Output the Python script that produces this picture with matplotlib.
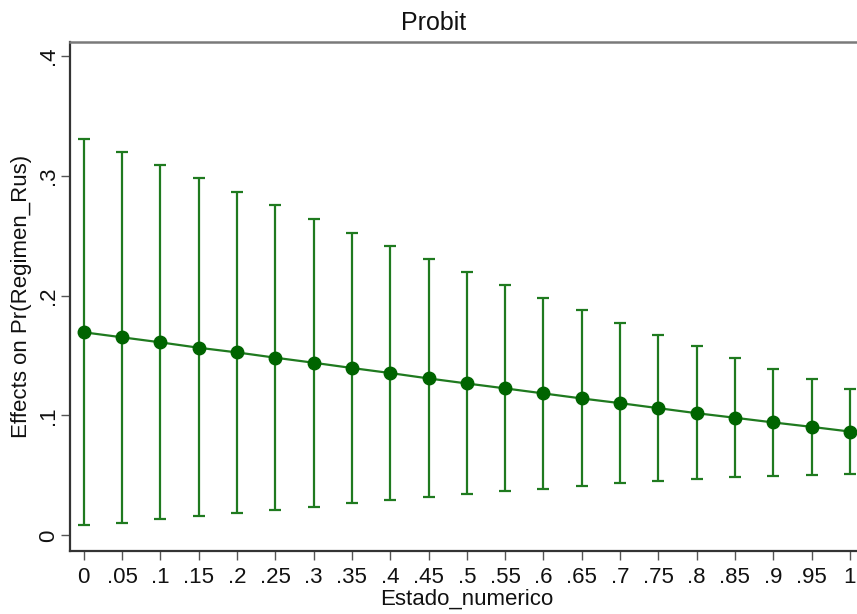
import matplotlib.pyplot as plt

plt.rcParams['font.family'] = ['Liberation Sans', 'DejaVu Sans']

# values
estado = [0, .05, .1, .15, .2, .25, .3, .35, .4, .45, .5,
          .55, .6, .65, .7, .75, .8, .85, .9, .95, 1]
effect = [0.1694, 0.1652, 0.1610, 0.1565, 0.1526, 0.1482, 0.1440, 0.1396,
          0.1354, 0.1309, 0.1267, 0.1226, 0.1184, 0.1142, 0.1103, 0.1061,
          0.1019, 0.0981, 0.0942, 0.0905, 0.0866]
ci_upper = [0.3306, 0.3200, 0.3089, 0.2980, 0.2867, 0.2753, 0.2639, 0.2525,
            0.2414, 0.2303, 0.2194, 0.2086, 0.1978, 0.1878, 0.1769, 0.1669,
            0.1578, 0.1481, 0.1386, 0.1303, 0.1222]
ci_lower = [0.0084, 0.0106, 0.0134, 0.0159, 0.0187, 0.0214, 0.0237, 0.0267,
            0.0292, 0.0320, 0.0345, 0.0370, 0.0390, 0.0412, 0.0435, 0.0451,
            0.0471, 0.0487, 0.0499, 0.0507, 0.0515]
xtick_labels = ['0', '.05', '.1', '.15', '.2', '.25', '.3', '.35', '.4', '.45', '.5',
                '.55', '.6', '.65', '.7', '.75', '.8', '.85', '.9', '.95', '1']
yticks = [0, .1, .2, .3, .4]
ytick_labels = ['0', '.1', '.2', '.3', '.4']

fig = plt.figure(figsize=(8.57, 6.14), dpi=100)
# plot region runs off the right edge, like the cropped original
ax = fig.add_axes([0.0817, 0.1031, 0.926, 0.828])

err_low = [e - l for e, l in zip(effect, ci_lower)]
err_high = [u - e for e, u in zip(effect, ci_upper)]
ax.errorbar(estado, effect, yerr=[err_low, err_high], fmt='none',
            ecolor='#1f7a1f', elinewidth=1.6, capsize=4.5, capthick=1.6, zorder=2)
ax.plot(estado, effect, color='#1f7a1f', linewidth=1.6, zorder=3)
ax.plot(estado, effect, 'o', color='#006400', markersize=9, zorder=4)

ax.set_xlim(-0.018, 1.018)
ax.set_ylim(-0.0128, 0.4113)
ax.set_xticks(estado)
ax.set_xticklabels(xtick_labels)
ax.set_yticks(yticks)
ax.set_yticklabels(ytick_labels, rotation=90, va='center')

ax.tick_params(axis='both', direction='out', length=6.5, width=1,
               color='#555555', labelsize=16, labelcolor='#111111')
ax.tick_params(axis='x', pad=5)
ax.tick_params(axis='y', pad=1.5)

for side in ['left', 'bottom']:
    ax.spines[side].set_color('#333333')
    ax.spines[side].set_linewidth(1.6)
ax.spines['top'].set_color('#7a7a7a')
ax.spines['top'].set_linewidth(1.8)
ax.spines['right'].set_color('#7a7a7a')

ax.set_xlabel('Estado_numerico', fontsize=16, color='#111111', labelpad=1)
ax.set_ylabel('Effects on Pr(Regimen_Rus)', fontsize=16, color='#111111', labelpad=4)

fig.text(434 / 857, 1 - 23 / 614, 'Probit', fontsize=18, ha='center', va='center',
         color='#111111')

plt.savefig('out.png', dpi=100)
